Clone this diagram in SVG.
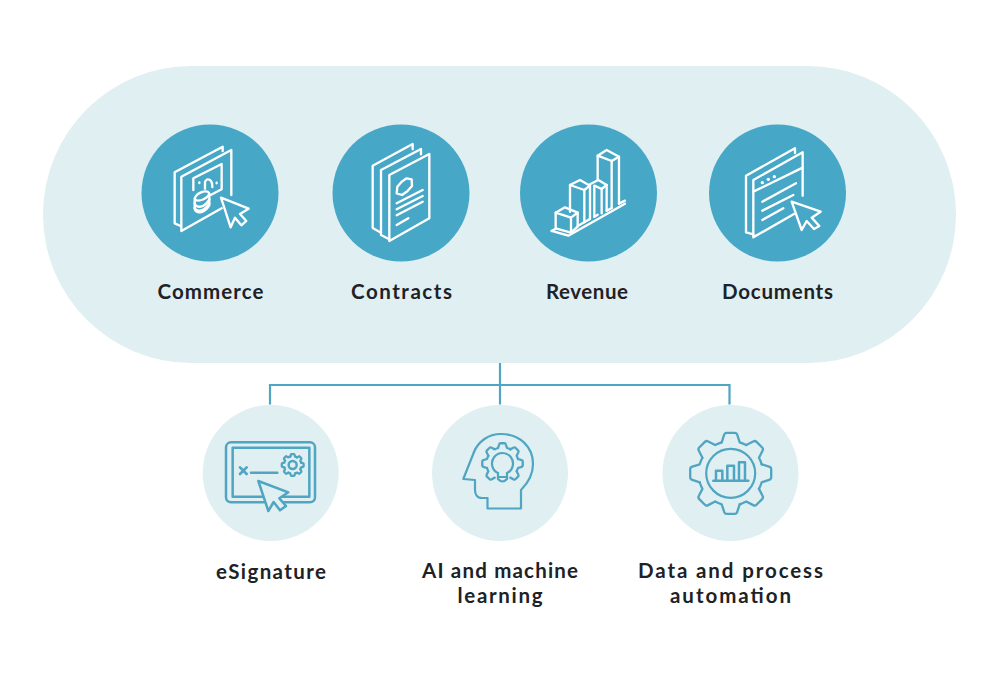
<svg xmlns="http://www.w3.org/2000/svg" xmlns:xlink="http://www.w3.org/1999/xlink" width="1000" height="673" viewBox="0 0 1000 673">
<style>
.bg{fill:#e0eff2}
.top{fill:#47a7c7}
.w{fill:none;stroke:#fff;stroke-width:7;stroke-linejoin:round;stroke-linecap:round}
.t{fill:none;stroke:#4fa5c2;stroke-width:7.5;stroke-linejoin:round;stroke-linecap:round}
.c{fill:none;stroke:#4fa5c2;stroke-width:2.2}
.lab{font-family:"Lato","Noto Sans",sans-serif;font-weight:700;font-size:20.5px;fill:#1d2226;text-anchor:middle}
.g{fill:none;stroke:#4fa5c2;stroke-width:2.3;stroke-linejoin:round;stroke-linecap:round;vector-effect:non-scaling-stroke}
.dot{fill:#fff;stroke:none}
</style>
<defs>
<path id="seg" class="g" d="M-9,-31 L-6.6,-38.4 Q-6,-40.5 -4,-40.5 L4,-40.5 Q6,-40.5 6.6,-38.4 L9,-31 A32.3,32.3 0 0 1 15.56,-28.28"/>
<path id="tooth" class="g" d="M-9,-31 L-6.6,-38.4 Q-6,-40.5 -4,-40.5 L4,-40.5 Q6,-40.5 6.6,-38.4 L9,-31"/>
</defs>
<rect id="platform" class="bg" x="43" y="66" width="913" height="297" rx="148.5"/>
<g id="connectors" class="c">
<path d="M500,363 V404.5"/>
<path d="M270,404.5 V385 H729.5 V404.5"/>
</g>
<g id="commerce">
<circle class="top" cx="210" cy="193" r="68.5"/>
<g class="w" transform="translate(160 140) scale(.3333)">
<path d="M62,258 L44,250 V97 L188,20 V33"/>
<path d="M185,205 L64,273 V110 L214,30 V165"/>
<path d="M100,150 V115 L185,72 V148 L152,165"/>
<ellipse cx="126" cy="168" rx="23" ry="11" transform="rotate(-25 126 168)"/>
<path d="M104,178 V206 C106,222 132,222 148,196 V162"/>
<path d="M104,190 C108,206 134,204 148,178"/>
<path d="M104,204 C110,218 134,214 148,190"/>
<path d="M118,127 V129 M170,128 V130"/>
<path d="M135,146 V126 Q140,114 150,120 Q157,125 157,141"/>
<path d="M183,173 L266,206 L240,222 L259,243 L244,256 L225,233 L212,262 Z"/>
</g>
<text class="lab" x="210.5" y="298.5" textLength="106">Commerce</text>
</g>
<g id="contracts">
<circle class="top" cx="401" cy="193" r="68.5"/>
<g class="w" transform="translate(360 140) scale(.3333)">
<path d="M63,278 L38,264 V77 L158,12 V28"/>
<path d="M88,298 L63,285 V90 L183,27 V43"/>
<path d="M88,303 V105 L208,42 V235 Z"/>
<path d="M125,125 L140,115 L155,118 L156,138 L142,154 L126,165 L110,160 L112,140 Z"/>
<path d="M110,190 L188,150 M110,208 L188,168 M110,226 L188,185 M110,255 L145,235"/>
</g>
<text class="lab" x="401.5" y="298.5" textLength="101">Contracts</text>
</g>
<g id="revenue">
<circle class="top" cx="588.5" cy="193" r="68.5"/>
<g class="w" transform="translate(545 145) scale(.3333)">
<path d="M20,258 L70,272 L240,176"/>
<path d="M20,258 L32,251 M98,243 L135,222 M148,215 L158,209 M185,197 L200,189 M222,176 L240,167"/>
<path d="M32,203 L60,187 L98,203 L78,218 Z"/>
<path d="M32,203 V250 L78,263 L98,245 V203 M78,218 V263"/>
<path d="M75,120 L105,105 L135,122 L118,135 Z"/>
<path d="M75,120 V200 M118,135 V232 M135,122 V222"/>
<path d="M135,118 L160,105 L185,120 L170,132 L148,122"/>
<path d="M148,124 V215 M170,132 V205 M185,120 V197"/>
<path d="M158,32 L185,15 L222,35 L200,48 Z"/>
<path d="M158,32 V105 M200,48 V189 M222,35 V176"/>
</g>
<text class="lab" x="587" y="298.5" textLength="82">Revenue</text>
</g>
<g id="documents">
<circle class="top" cx="777.5" cy="193" r="68.5"/>
<g class="w" transform="translate(740 145) scale(.3333)">
<path d="M40,268 L18,262 V92 L165,10 V24"/>
<path d="M162,207 L40,277 V105 L188,22 V152"/>
<path d="M40,140 L188,68"/>
<circle class="dot" cx="67" cy="113" r="5"/>
<circle class="dot" cx="85" cy="103" r="5"/>
<circle class="dot" cx="103" cy="95" r="5"/>
<path d="M67,170 L168,115 M67,197 L160,150 M67,225 L130,190"/>
<path d="M155,170 L242,200 L215,218 L238,243 L222,252 L200,228 L185,255 Z"/>
</g>
<text class="lab" x="777.5" y="298.5" textLength="111">Documents</text>
</g>
<g id="esignature">
<circle class="bg" cx="270.7" cy="473" r="68"/>
<g class="t" transform="translate(220 435) scale(.3333)">
<rect x="18" y="22" width="267" height="180" rx="15"/>
<rect x="38" y="38" width="230" height="147"/>
<path d="M60,97 L80,117 M80,97 L60,117" stroke-width="8"/>
<path d="M93,113 H172"/>
<circle cx="218" cy="90" r="12"/>
<path d="M115,138 L205,172 L178,190 L198,213 L180,226 L161,201 L145,228 Z" fill="#e0eff2"/>
</g>
<g transform="translate(292.7 465) scale(.27)">
<use xlink:href="#seg" href="#seg"/>
<use xlink:href="#seg" href="#seg" transform="rotate(45)"/>
<use xlink:href="#seg" href="#seg" transform="rotate(90)"/>
<use xlink:href="#seg" href="#seg" transform="rotate(135)"/>
<use xlink:href="#seg" href="#seg" transform="rotate(180)"/>
<use xlink:href="#seg" href="#seg" transform="rotate(225)"/>
<use xlink:href="#seg" href="#seg" transform="rotate(270)"/>
<use xlink:href="#seg" href="#seg" transform="rotate(315)"/>
</g>
<text class="lab" x="271" y="579" textLength="110">eSignature</text>
</g>
<g id="ai-machine-learning">
<circle class="bg" cx="500" cy="473" r="68"/>
<path class="c" stroke-linejoin="round" d="M475,480 L463.3,479 L474,452 C478,442 488,434 501,434 C520,434 533,447 533,464 C533,476 527,484 521,490 V508.5 H487.5 V498 H482 C477,498 475,494 475,490 Z"/>
<g transform="translate(502.5 463.5) scale(.5)">
<use xlink:href="#seg" href="#seg"/>
<use xlink:href="#seg" href="#seg" transform="rotate(45)"/>
<use xlink:href="#seg" href="#seg" transform="rotate(90)"/>
<use xlink:href="#tooth" href="#tooth" transform="rotate(135)"/>
<use xlink:href="#seg" href="#seg" transform="rotate(225)"/>
<use xlink:href="#seg" href="#seg" transform="rotate(270)"/>
<use xlink:href="#seg" href="#seg" transform="rotate(315)"/>
</g>
<path class="c" d="M498,473 A10.5,10.5 0 1 1 507,473 V477 H498 Z"/>
<path class="c" d="M498,477 V479 Q502.5,484 507,479 V477"/>
<text class="lab" x="500" y="578" textLength="156">AI and machine</text>
<text class="lab" x="500" y="603" textLength="85">learning</text>
</g>
<g id="data-process-automation">
<circle class="bg" cx="730.5" cy="473" r="68"/>
<g transform="translate(730.7 473.3)">
<use xlink:href="#seg" href="#seg"/>
<use xlink:href="#seg" href="#seg" transform="rotate(45)"/>
<use xlink:href="#seg" href="#seg" transform="rotate(90)"/>
<use xlink:href="#seg" href="#seg" transform="rotate(135)"/>
<use xlink:href="#seg" href="#seg" transform="rotate(180)"/>
<use xlink:href="#seg" href="#seg" transform="rotate(225)"/>
<use xlink:href="#seg" href="#seg" transform="rotate(270)"/>
<use xlink:href="#seg" href="#seg" transform="rotate(315)"/>
<circle class="c" r="24.5"/>
</g>
<g class="t" transform="translate(685 428) scale(.3333)">
<path d="M85,158 H190"/>
<path d="M93,158 V128 H112 V158 M127,158 V113 H147 V158 M162,158 V103 H180 V158"/>
</g>
<text class="lab" x="730.5" y="578" textLength="185">Data and process</text>
<text class="lab" x="730.5" y="603" textLength="121">automation</text>
</g>
</svg>
